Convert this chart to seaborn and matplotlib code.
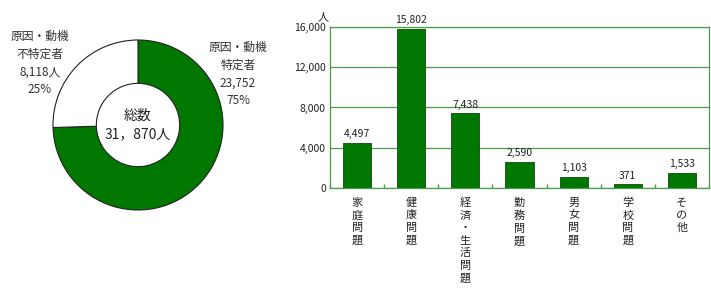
import matplotlib
matplotlib.use("Agg")
import matplotlib.pyplot as plt
import seaborn as sns
import numpy as np
import pandas as pd

sns.set_theme(style="white")
plt.rcParams['font.family'] = ['Noto Sans CJK JP', 'DejaVu Sans']

# data
pie_labels = ["原因・動機\n特定者\n23,752\n75%", "原因・動機\n不特定者\n8,118人\n25%"]
pie_values = [23752, 8118]
total_label = "総数\n31，870人"

categories = ["家\n庭\n問\n題", "健\n康\n問\n題", "経\n済\n・\n生\n活\n問\n題", "勤\n務\n問\n題",
              "男\n女\n問\n題", "学\n校\n問\n題", "そ\nの\n他"]
values = [4497, 15802, 7438, 2590, 1103, 371, 1533]
yticks = [0, 4000, 8000, 12000, 16000]

GREEN = "#007800"
LINE = "#4a9e4a"

fig = plt.figure(figsize=(7.11, 2.91), dpi=100)

# donut
cx, cy, r = 138, 125, 85
axp = fig.add_axes([(cx - r) / 711, (291 - cy - r) / 291, 2 * r / 711, 2 * r / 291])
axp.pie(pie_values, colors=[GREEN, "white"], startangle=90, counterclock=False,
        radius=1.0, wedgeprops=dict(width=0.51, edgecolor="#222222", linewidth=0.8))
axp.set_xlim(-1, 1); axp.set_ylim(-1, 1)
axp.set_aspect("equal")
axp.axis("off")
axp.text(0, 0, total_label, ha="center", va="center", fontsize=10, color="#222222", linespacing=1.35)
fig.text(238 / 711, 1 - 74 / 291, pie_labels[0], ha="center", va="center", fontsize=8.5,
         color="#333333", linespacing=1.45)
fig.text(40 / 711, 1 - 63 / 291, pie_labels[1], ha="center", va="center", fontsize=8.5,
         color="#333333", linespacing=1.45)

# bar chart
axb = fig.add_axes([330 / 711, (291 - 188) / 291, (709 - 330) / 711, (188 - 27) / 291])
df = pd.DataFrame({"cat": categories, "val": values})
sns.barplot(data=df, x="cat", y="val", color=GREEN, saturation=1, width=0.52,
            edgecolor="#0a4d0a", linewidth=0.6, ax=axb)
axb.set_ylim(0, 16000)
axb.set_xlim(-0.5, len(values) - 0.5)
axb.set_yticks(yticks)
axb.set_yticklabels([f"{v:,}" for v in yticks], fontsize=7.5, color="#222222")
axb.yaxis.grid(True, color=LINE, linewidth=0.9)
axb.set_axisbelow(True)
for s in axb.spines.values():
    s.set_color(LINE)
    s.set_linewidth(0.9)
axb.set_xlabel(""); axb.set_ylabel("")
axb.set_xticks(range(len(values)))
axb.set_xticklabels(categories, fontsize=8, color="#222222", linespacing=1.3, va="top")
axb.tick_params(axis="x", length=0, pad=7)
axb.tick_params(axis="y", length=0, pad=3)
axb.set_xticks(np.arange(-0.5, len(values), 1), minor=True)
axb.tick_params(axis="x", which="minor", direction="in", length=3, color=LINE, bottom=True)
for i, v in enumerate(values):
    axb.text(i, v + 350, f"{v:,}", ha="center", va="bottom", fontsize=7.5, color="#222222")
fig.text(323 / 711, 1 - 17 / 291, "人", ha="center", va="center", fontsize=8, color="#222222")

fig.savefig("out.png", dpi=100)
